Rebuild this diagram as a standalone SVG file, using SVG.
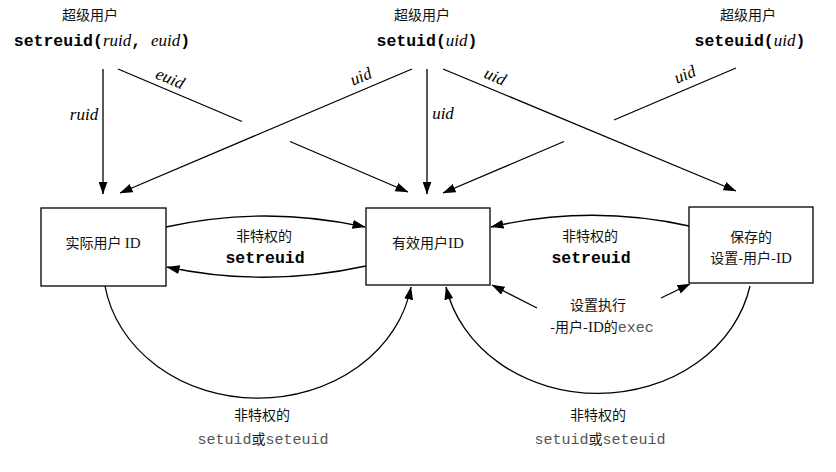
<svg xmlns="http://www.w3.org/2000/svg" width="836" height="472" viewBox="0 0 836 472">
<defs>
<marker id="ah" viewBox="0 0 13 9" refX="12.5" refY="4.5" markerWidth="13" markerHeight="9" markerUnits="userSpaceOnUse" orient="auto">
<path d="M0,0 L13,4.5 L0,9 z" fill="#000"/>
</marker>
<style>
.box{fill:#fff;stroke:#000;stroke-width:1.3}
.ln{fill:none;stroke:#000;stroke-width:1.3}
.cjk{font-family:"Noto Sans CJK SC","Noto Sans",sans-serif;font-size:14px;fill:#111}
.serif{font-family:"Liberation Serif","Noto Sans CJK SC",serif;font-size:15px}
.mb{font-family:"Liberation Mono",monospace;font-weight:bold;font-size:16.5px;fill:#000}
.ml{font-family:"Liberation Mono",monospace;font-size:15px;fill:#555}
.it{font-family:"Liberation Serif",serif;font-style:italic;font-size:17px;fill:#000}
.c{text-anchor:middle}
</style>
</defs>
<rect width="836" height="472" fill="#fff"/>

<g id="top-setreuid">
<text class="cjk c" x="90" y="20">超级用户</text>
<text class="c" x="102" y="46"><tspan class="mb">setreuid(</tspan><tspan class="it">ruid</tspan><tspan class="mb">, </tspan><tspan class="it">euid</tspan><tspan class="mb">)</tspan></text>
</g>
<g id="top-setuid">
<text class="cjk c" x="422" y="20">超级用户</text>
<text class="c" x="427" y="46"><tspan class="mb">setuid(</tspan><tspan class="it">uid</tspan><tspan class="mb">)</tspan></text>
</g>
<g id="top-seteuid">
<text class="cjk c" x="748" y="20">超级用户</text>
<text class="c" x="750" y="46"><tspan class="mb">seteuid(</tspan><tspan class="it">uid</tspan><tspan class="mb">)</tspan></text>
</g>

<g id="real-uid">
<rect class="box" x="41" y="208" width="125" height="78"/>
<text class="cjk c" x="103" y="248">实际用户 <tspan class="serif">ID</tspan></text>
</g>
<g id="effective-uid">
<rect class="box" x="366" y="208" width="124" height="77"/>
<text class="cjk c" x="428" y="248">有效用户<tspan class="serif">ID</tspan></text>
</g>
<g id="saved-set-uid">
<rect class="box" x="689" y="207" width="124" height="76"/>
<text class="cjk c" x="751" y="242">保存的</text>
<text class="cjk c" x="751" y="263">设置-用户-<tspan class="serif">ID</tspan></text>
</g>

<g id="connectors">
<line class="ln" x1="103" y1="69" x2="103" y2="194" marker-end="url(#ah)"/>
<line class="ln" x1="118" y1="69" x2="242" y2="121.5"/>
<line class="ln" x1="290" y1="141.5" x2="408" y2="192" marker-end="url(#ah)"/>
<line class="ln" x1="412" y1="69" x2="120" y2="193" marker-end="url(#ah)"/>
<line class="ln" x1="427" y1="69" x2="427" y2="194" marker-end="url(#ah)"/>
<line class="ln" x1="443" y1="69" x2="736" y2="191" marker-end="url(#ah)"/>
<line class="ln" x1="736" y1="68" x2="614" y2="120"/>
<line class="ln" x1="564" y1="141.5" x2="443" y2="193" marker-end="url(#ah)"/>

<path class="ln" d="M166,227 Q265,205 365,227" marker-end="url(#ah)"/>
<path class="ln" d="M366,266 Q265,288 167,267" marker-end="url(#ah)"/>
<path class="ln" d="M689,226 Q590,204 491,227" marker-end="url(#ah)"/>
<line class="ln" x1="537" y1="308" x2="492" y2="285" marker-end="url(#ah)"/>
<line class="ln" x1="661" y1="298" x2="690" y2="284" marker-end="url(#ah)"/>
<path class="ln" d="M105,286 A155 133 0 0 0 411,287" marker-end="url(#ah)"/>
<path class="ln" d="M750,286 A155 133 0 0 1 446,287" marker-end="url(#ah)"/>

<text class="it c" x="84" y="120">ruid</text>
<text class="it c" x="443" y="119">uid</text>
<text class="it c" transform="translate(170,79) rotate(23)" y="5">euid</text>
<text class="it c" transform="translate(361,77) rotate(-23)" y="5">uid</text>
<text class="it c" transform="translate(495,77) rotate(23)" y="5">uid</text>
<text class="it c" transform="translate(685,75) rotate(-23)" y="5">uid</text>

<text class="cjk c" x="264" y="241">非特权的</text>
<text class="mb c" x="265" y="263" font-size="17">setreuid</text>
<text class="cjk c" x="590" y="241">非特权的</text>
<text class="mb c" x="591" y="263" font-size="17">setreuid</text>
<text class="cjk c" x="598" y="310">设置执行</text>
<text class="cjk c" x="602" y="332">-用户-<tspan class="serif">ID</tspan>的<tspan class="ml" font-size="14">exec</tspan></text>
<text class="cjk c" x="262" y="420">非特权的</text>
<text class="c" x="263" y="444"><tspan class="ml">setuid</tspan><tspan class="cjk">或</tspan><tspan class="ml">seteuid</tspan></text>
<text class="cjk c" x="598" y="420">非特权的</text>
<text class="c" x="600" y="444"><tspan class="ml">setuid</tspan><tspan class="cjk">或</tspan><tspan class="ml">seteuid</tspan></text>
</g>
</svg>
